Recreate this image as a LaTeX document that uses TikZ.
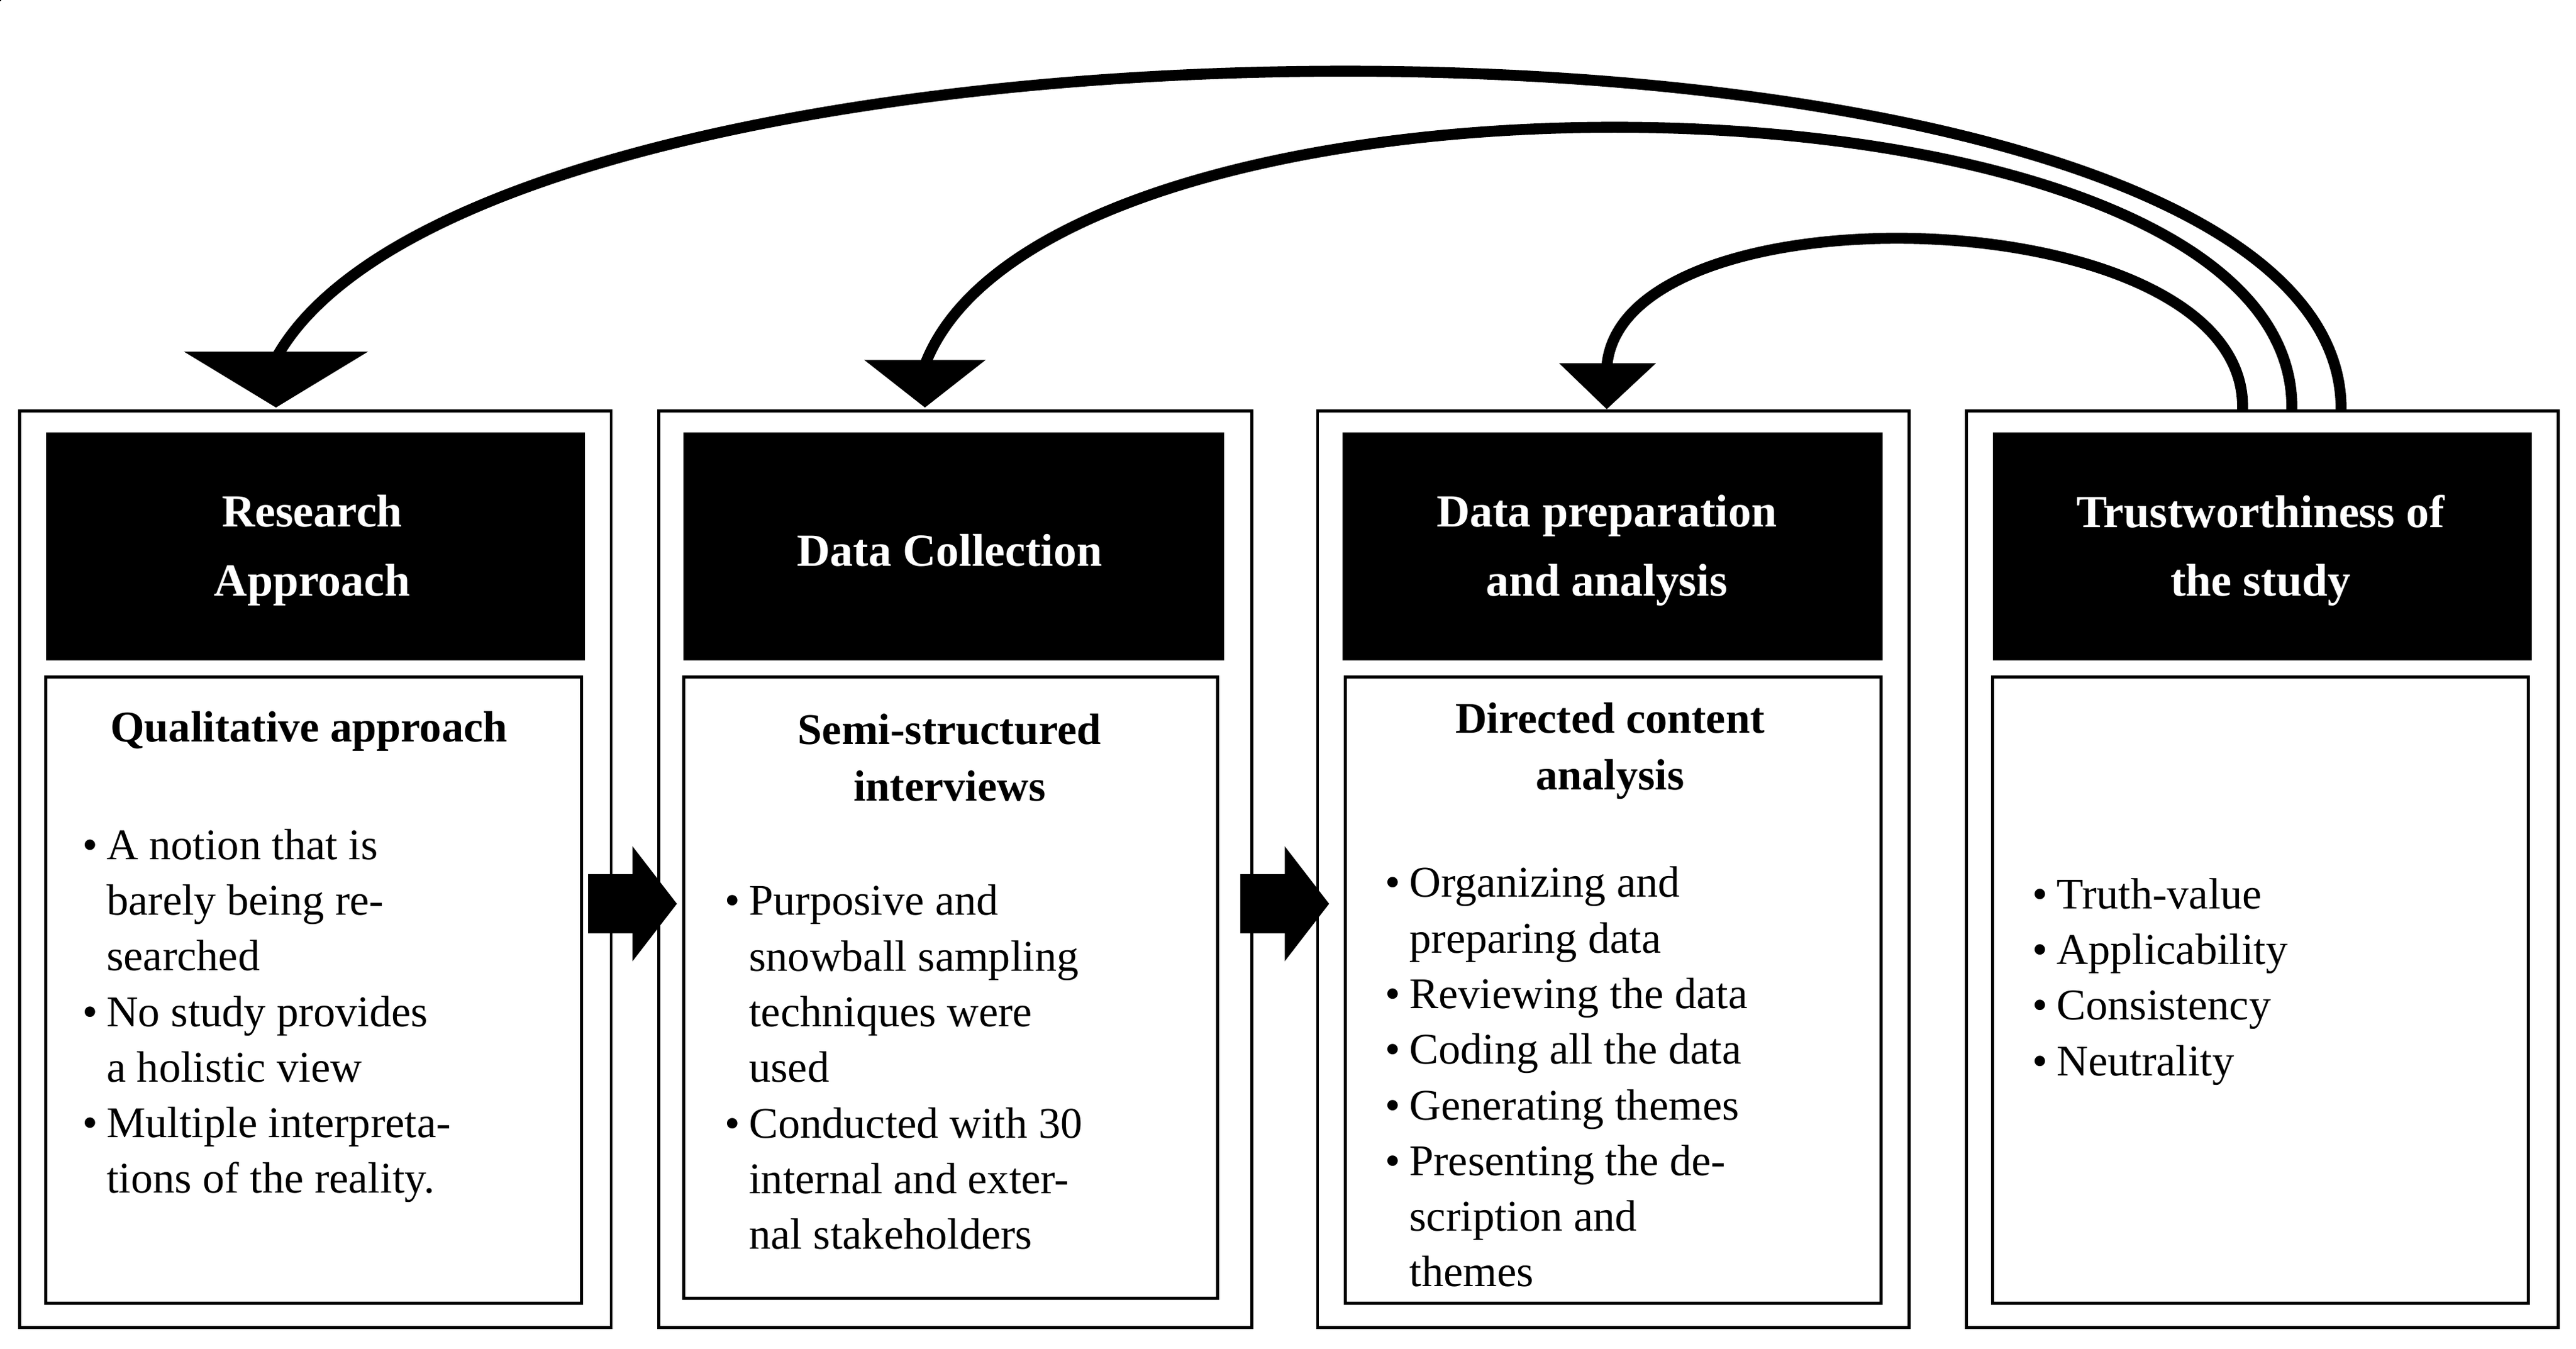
\documentclass[tikz,border=0pt]{standalone}
\usepackage{fontspec}
\setmainfont{Liberation Serif}
\begin{document}
\begin{tikzpicture}[x=0.02637cm,y=-0.02637cm,
  box/.style={draw=black,line width=1.4pt},
  hdr/.style={fill=black},
  htxt/.style={text=white,font=\fontsize{21}{31.5}\selectfont\bfseries,align=center},
  sub/.style={font=\fontsize{20}{26}\selectfont\bfseries,align=center},
  body/.style={font=\fontsize{20}{25.4}\selectfont,anchor=base west,inner sep=0pt},
  curve/.style={line width=5pt},
  head/.style={fill=black}]
\useasboundingbox (0,0) rectangle (1568,820.6);
% outer boxes
\node[box,minimum width=0,inner sep=0] (o1) at (0,0) {};
\draw[box] (12,250) rectangle (372,808);
\draw[box] (401,250) rectangle (762,808);
\draw[box] (802,250) rectangle (1162,808);
\draw[box] (1197,250) rectangle (1557,808);
% headers
\fill[hdr] (28,263) rectangle (356,402);
\fill[hdr] (416,263) rectangle (745,402);
\fill[hdr] (817,263) rectangle (1146,402);
\fill[hdr] (1213,263) rectangle (1541,402);
\node[htxt] (h1) at (190,335) {Research\\Approach};
\node[htxt] (h2) at (578,335) {Data Collection};
\node[htxt] (h3) at (978,335) {Data preparation\\and analysis};
\node[htxt] (h4) at (1376,335) {Trustworthiness of\\the study};
% inner boxes
\draw[box] (28,412) rectangle (354,793);
\draw[box] (416,412) rectangle (741,790);
\draw[box] (819,412) rectangle (1145,793);
\draw[box] (1213,412) rectangle (1539,793);
% sub headings
\node[sub] (s1) at (188,445) {Qualitative approach};
\node[sub] (s2) at (578,461) {Semi-structured\\interviews};
\node[sub] (s3) at (980,457) {Directed content\\analysis};
% bodies
\node[body] (b1) at (50,523) {\begin{tabular}[t]{@{}l@{\hspace{4pt}}l@{}}
\textbullet & A notion that is\\ & barely being re-\\ & searched\\
\textbullet & No study provides\\ & a holistic view\\
\textbullet & Multiple interpreta-\\ & tions of the reality.\end{tabular}};
\node[body] (b2) at (441,557) {\begin{tabular}[t]{@{}l@{\hspace{4pt}}l@{}}
\textbullet & Purposive and\\ & snowball sampling\\ & techniques were\\ & used\\
\textbullet & Conducted with 30\\ & internal and exter-\\ & nal stakeholders\end{tabular}};
\node[body] (b3) at (843,546) {\begin{tabular}[t]{@{}l@{\hspace{4pt}}l@{}}
\textbullet & Organizing and\\ & preparing data\\
\textbullet & Reviewing the data\\
\textbullet & Coding all the data\\
\textbullet & Generating themes\\
\textbullet & Presenting the de-\\ & scription and\\ & themes\end{tabular}};
\node[body] (b4) at (1237,553) {\begin{tabular}[t]{@{}l@{\hspace{4pt}}l@{}}
\textbullet & Truth-value\\
\textbullet & Applicability\\
\textbullet & Consistency\\
\textbullet & Neutrality\end{tabular}};
% block arrows
\fill (358,532) -- (385,532) -- (385,515) -- (412,550) -- (385,585) -- (385,568) -- (358,568) -- cycle;
\fill (755,532) -- (782,532) -- (782,515) -- (809,550) -- (782,585) -- (782,568) -- (755,568) -- cycle;
% curved feedback arrows
\coordinate (c1s) at (1425,250);
\coordinate (c2s) at (1395,250);
\coordinate (c3s) at (1365,250);
\coordinate (c1e) at (168,218);
\coordinate (c2e) at (563,222);
\coordinate (c3e) at (978,224);
\draw[curve] (c1s) .. controls (1428,-20) and (300,-20) .. (c1e);
\draw[curve] (c2s) .. controls (1400,30) and (640,20) .. (c2e);
\draw[curve] (c3s) .. controls (1370,120) and (985,110) .. (c3e);
\fill[head] (112,214) -- (224,214) -- (168,248) -- cycle;
\fill[head] (526,219) -- (600,219) -- (563,248) -- cycle;
\fill[head] (949,221) -- (1008,221) -- (978,249) -- cycle;
\end{tikzpicture}
\end{document}
